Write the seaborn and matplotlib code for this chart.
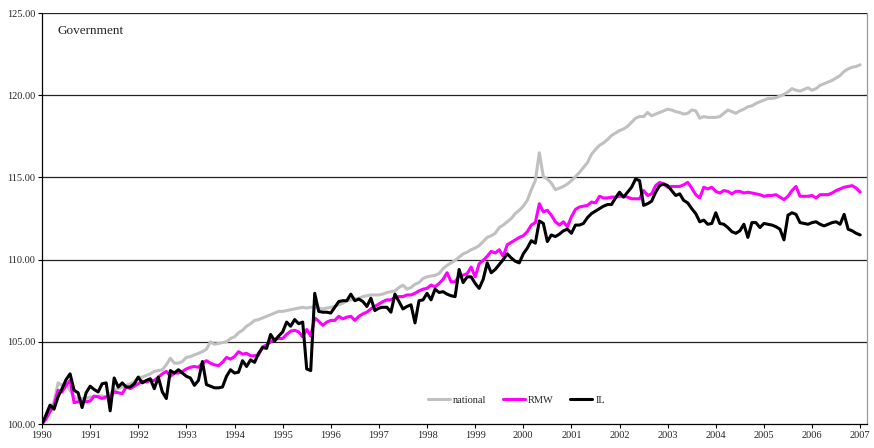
import numpy as np
import pandas as pd
import matplotlib
matplotlib.use("Agg")
import matplotlib.pyplot as plt
import seaborn as sns

# monthly index values, Jan 1990 .. Jan 2007 (one row per year)
national = [
    100.0, 100.35, 100.85, 101.35, 102.5, 102.35, 102.45, 102.05, 101.65, 101.55, 101.55, 101.55,
    101.65, 101.65, 101.7, 101.7, 101.65, 101.85, 102.05, 102.15, 102.25, 102.35, 102.45, 102.55,
    102.85, 102.85, 102.95, 103.05, 103.2, 103.25, 103.3, 103.6, 104.0, 103.7, 103.7, 103.8,
    104.05, 104.1, 104.2, 104.3, 104.4, 104.55, 105.0, 104.85, 104.9, 104.95, 105.0, 105.2,
    105.3, 105.55, 105.7, 105.95, 106.1, 106.3, 106.35, 106.45, 106.55, 106.65, 106.75, 106.85,
    106.85, 106.9, 106.95, 107.0, 107.05, 107.1, 107.05, 107.1, 107.1, 107.05, 107.0, 107.05,
    107.1, 107.15, 107.25, 107.35, 107.5, 107.55, 107.6, 107.65, 107.75, 107.8, 107.85, 107.85,
    107.85, 107.9, 108.0, 108.05, 108.1, 108.3, 108.45, 108.2, 108.3, 108.5, 108.6, 108.85,
    108.95, 109.0, 109.05, 109.15, 109.45, 109.65, 109.8, 109.95, 110.15, 110.35, 110.45, 110.6,
    110.7, 110.85, 111.1, 111.35, 111.45, 111.6, 111.95, 112.1, 112.3, 112.5, 112.8, 113.0,
    113.25, 113.6, 114.25, 114.8, 116.5, 115.05, 114.9, 114.65, 114.25, 114.35, 114.45, 114.6,
    114.8, 115.05, 115.3, 115.6, 115.9, 116.4, 116.7, 116.95, 117.1, 117.3, 117.55, 117.7,
    117.85, 117.95, 118.1, 118.35, 118.6, 118.7, 118.7, 118.95, 118.75, 118.85, 118.95, 119.05,
    119.15, 119.1, 119.0, 118.95, 118.85, 118.9, 119.1, 119.05, 118.6, 118.7, 118.65, 118.65,
    118.65, 118.7, 118.9, 119.1, 119.0, 118.9, 119.05, 119.15, 119.3, 119.35, 119.5, 119.6,
    119.7, 119.8, 119.8, 119.85, 119.95, 120.05, 120.2, 120.4, 120.3, 120.25, 120.35, 120.45,
    120.3, 120.4, 120.6, 120.7, 120.8, 120.9, 121.05, 121.2, 121.45, 121.6, 121.7, 121.75,
    121.85,
]

rmw = [
    100.0, 100.3, 100.75, 101.15, 102.05, 101.95, 102.35, 102.65, 101.3, 101.35, 101.35, 101.35,
    101.4, 101.7, 101.65, 101.55, 101.65, 101.65, 101.95, 101.9, 101.85, 102.25, 102.15, 102.3,
    102.45, 102.6, 102.55, 102.65, 102.65, 102.85, 103.05, 103.2, 102.9, 103.1, 103.1, 103.2,
    103.35, 103.45, 103.5, 103.45, 103.7, 103.85, 103.7, 103.6, 103.55, 103.75, 104.05, 103.95,
    104.1, 104.4, 104.25, 104.3, 104.15, 104.15, 104.2, 104.7, 104.8, 105.0, 105.15, 105.2,
    105.2, 105.45, 105.65, 105.7, 105.6, 105.3, 105.75, 105.35, 106.45, 106.25, 106.0, 106.2,
    106.3, 106.3, 106.55, 106.4, 106.5, 106.55, 106.3, 106.55, 106.7, 106.8, 107.0, 107.15,
    107.3, 107.45, 107.55, 107.55, 107.7, 107.75, 107.75, 107.85, 107.85, 107.95, 108.1, 108.2,
    108.25, 108.45, 108.35, 108.55, 108.8, 109.2, 108.65, 108.65, 109.0, 109.05, 109.15, 109.55,
    108.95, 109.75, 109.95, 110.2, 110.5, 110.4, 110.6, 110.2, 110.9, 111.05, 111.2, 111.35,
    111.45, 111.7, 112.1, 112.25, 113.4, 112.9, 113.0, 112.7, 112.3, 112.1, 112.3, 112.0,
    112.6, 113.05, 113.2, 113.25, 113.3, 113.5, 113.45, 113.85, 113.75, 113.75, 113.8, 113.8,
    113.85, 113.85, 113.8, 113.7, 113.7, 113.7, 114.2, 113.9, 114.0, 114.5, 114.7, 114.6,
    114.4, 114.45, 114.45, 114.45, 114.55, 114.7, 114.35, 113.95, 113.75, 114.4, 114.3, 114.4,
    114.15, 114.05, 114.2, 114.15, 114.0, 114.15, 114.15, 114.05, 114.1, 114.05, 114.0, 113.95,
    113.85, 113.9, 113.9, 113.95, 113.8, 113.65, 113.85, 114.2, 114.45, 113.85, 113.85, 113.85,
    113.9, 113.75, 113.95, 113.95, 113.95, 114.05, 114.2, 114.3, 114.4, 114.45, 114.5, 114.35,
    114.1,
]

il = [
    100.0, 100.55, 101.15, 100.9, 101.65, 102.15, 102.7, 103.05, 102.05, 101.9, 101.0, 101.9,
    102.3, 102.1, 101.95, 102.45, 102.5, 100.8, 102.8, 102.25, 102.5, 102.25, 102.25, 102.45,
    102.85, 102.5, 102.65, 102.75, 102.15, 102.85, 101.95, 101.55, 103.25, 103.1, 103.3, 103.1,
    102.9, 102.8, 102.35, 102.65, 103.8, 102.4, 102.3, 102.2, 102.2, 102.25, 102.9, 103.3,
    103.1, 103.15, 103.85, 103.5, 103.9, 103.75, 104.3, 104.65, 104.6, 105.45, 105.05, 105.35,
    105.6, 106.2, 105.95, 106.35, 106.1, 106.2, 103.35, 103.25, 107.95, 106.85, 106.8, 106.8,
    106.75, 107.1, 107.45, 107.5, 107.5, 107.9, 107.5, 107.6, 107.45, 107.15, 107.65, 106.9,
    107.05, 107.1, 107.1, 106.8, 107.9, 107.45, 107.0, 107.15, 107.25, 106.15, 107.5, 107.55,
    107.95, 107.55, 108.2, 108.0, 108.05, 107.9, 107.8, 107.75, 109.4, 108.6, 108.95, 108.95,
    108.55, 108.25, 108.8, 109.8, 109.2, 109.4, 109.7, 110.0, 110.35, 110.1, 109.9, 109.8,
    110.35, 110.7, 111.15, 111.0, 112.35, 112.2, 111.1, 111.5, 111.4, 111.55, 111.75, 111.85,
    111.6, 112.1, 112.1, 112.2, 112.55, 112.8, 112.95, 113.1, 113.25, 113.35, 113.35, 113.75,
    114.1, 113.8, 114.1, 114.4, 114.9, 114.8, 113.3, 113.4, 113.55, 114.1, 114.5, 114.6,
    114.5, 114.2, 113.9, 114.0, 113.6, 113.45, 113.1, 112.8, 112.3, 112.4, 112.15, 112.2,
    112.85, 112.2, 112.15, 111.95, 111.7, 111.6, 111.75, 112.15, 111.35, 112.25, 112.25, 111.95,
    112.2, 112.15, 112.1, 112.0, 111.85, 111.2, 112.7, 112.85, 112.75, 112.25, 112.2, 112.15,
    112.25, 112.3, 112.15, 112.05, 112.15, 112.25, 112.3, 112.15, 112.75, 111.85, 111.75, 111.6,
    111.5,
]

years = [str(y) for y in range(1990, 2008)]
series_names = ["national", "RMW", "IL"]
series_colors = ["#C0C0C0", "#FF00FF", "#000000"]

month = np.arange(len(national))
df = pd.DataFrame({"month": month, "national": national, "RMW": rmw, "IL": il})

sns.set_style("white")
plt.rcParams["font.family"] = ["Liberation Serif", "DejaVu Serif"]

fig = plt.figure(figsize=(8.74, 4.48), dpi=100)
ax = fig.add_axes([42 / 874, 1 - 424 / 448, 825 / 874, 411 / 448])

for name, color in zip(series_names, series_colors):
    sns.lineplot(data=df, x="month", y=name, color=color, linewidth=2.2,
                 label=name, ax=ax, legend=False)

ax.set_xlim(0, 205.7)
ax.set_ylim(100, 125)
ax.set_yticks([100, 105, 110, 115, 120, 125])
ax.set_yticklabels([f"{v:.2f}" for v in [100, 105, 110, 115, 120, 125]], fontsize=7.5)
ax.set_xticks(np.arange(len(years)) * 12)
ax.set_xticklabels(years, fontsize=7.5)
ax.set_xlabel("")
ax.set_ylabel("")

for v in [105, 110, 115, 120, 125]:
    ax.axhline(v, color="#222222", linewidth=0.9, zorder=0)

ax.tick_params(axis="both", direction="out", length=3, width=0.8, color="black", pad=2)
ax.tick_params(axis="x", bottom=True)
ax.tick_params(axis="y", left=True)
for side in ["left", "bottom"]:
    ax.spines[side].set_color("black")
    ax.spines[side].set_linewidth(0.9)
ax.spines["top"].set_visible(False)
ax.spines["right"].set_color("#999999")
ax.spines["right"].set_linewidth(0.9)

ax.text(0.019, 0.955, "Government", transform=ax.transAxes, fontsize=9.5,
        ha="left", va="center")

ax.legend(ncol=3, loc="center", bbox_to_anchor=(0.575, 0.058), frameon=False,
          fontsize=7.5, handlelength=2.1, handletextpad=0.3, columnspacing=1.6)

fig.savefig("out.png", dpi=100)
